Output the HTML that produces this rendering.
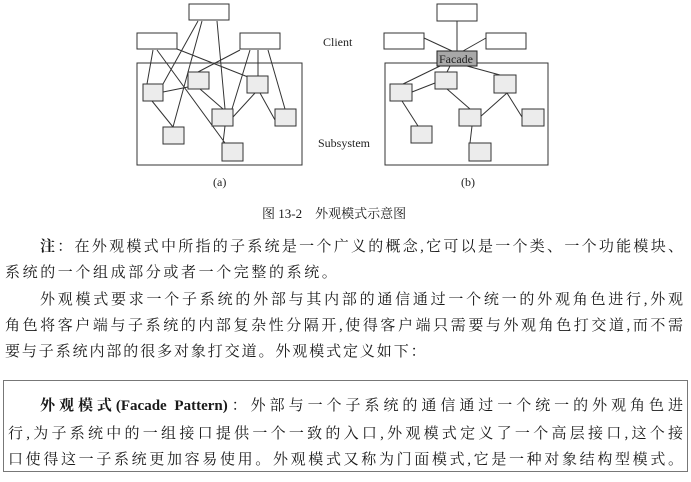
<!DOCTYPE html>
<html><head><meta charset="utf-8"><style>
html,body{margin:0;padding:0;background:#fff;}
body{width:691px;height:482px;position:relative;overflow:hidden;font-family:"Liberation Serif","Noto Serif CJK SC","Noto Sans CJK SC",serif;color:#1a1a1a;}
svg{position:absolute;left:0;top:0;}
.l{position:absolute;left:5px;width:678px;font-size:15px;line-height:20px;white-space:nowrap;text-align:justify;text-align-last:justify;}
.cap{position:absolute;left:262px;top:203px;font-size:13px;width:140px;text-align:justify;text-align-last:justify;white-space:nowrap;}
.box{position:absolute;left:3px;top:380px;width:683px;height:90px;border:1.5px solid #777;}
</style></head><body>
<svg width="691" height="200" viewBox="0 0 691 200">
<g stroke="#333" stroke-width="1" fill="none">
<rect x="137" y="63" width="165" height="102"/>
<rect x="385" y="63" width="163" height="102"/>
<g fill="#fff">
<rect x="189" y="4" width="40" height="16"/><rect x="137" y="33" width="40" height="16"/><rect x="240" y="33" width="40" height="16"/>
<rect x="437" y="4" width="40" height="17"/><rect x="384" y="33" width="40" height="16"/><rect x="486" y="33" width="40" height="16"/>
</g>
<path d="M198 21L163 84M202 21L173 127M217 21L225 109M153 50L147 84M157 50L225 143M177 49L248 77M240 50L198 72M250 50L232 109M258 50L258 76M268 50L285 109M163 92L188 87M152 101L173 127M200 89L223 109M255 93L233 117M260 93L275 120M225 126L223 143"/>
<path d="M457 21L457 51M424 38L452 51M486 38L463 51M440 66L403 84M450 66L447 72M467 66L500 75M412 92L435 83M402 101L418 126M447 89L470 109M507 93L480 117M507 93L522 117M472 126L470 143"/>
<g fill="#ececec">
<rect x="143" y="84" width="20" height="17"/><rect x="188" y="72" width="21" height="17"/><rect x="247" y="76" width="21" height="17"/><rect x="212" y="109" width="21" height="17"/><rect x="275" y="109" width="21" height="17"/><rect x="163" y="127" width="21" height="17"/><rect x="222" y="143" width="21" height="18"/>
<rect x="390" y="84" width="22" height="17"/><rect x="435" y="72" width="22" height="17"/><rect x="494" y="75" width="22" height="18"/><rect x="459" y="109" width="22" height="17"/><rect x="522" y="109" width="22" height="17"/><rect x="411" y="126" width="21" height="17"/><rect x="469" y="143" width="22" height="18"/>
</g>
<rect x="437" y="51" width="40" height="15" fill="#a8a8a8" stroke="#222"/>
</g>
<g font-family="Liberation Serif, serif" font-size="12" fill="#222">
<text x="439" y="63" font-size="12">Facade</text>
<text x="323" y="46">Client</text>
<text x="318" y="147">Subsystem</text>
<text x="213" y="186">(a)</text>
<text x="461" y="186">(b)</text>
</g>
</svg>
<div class="cap">图 13-2　外观模式示意图</div>
<div class="l" style="top:237px;left:40px;width:643px;"><b>注</b>：在外观模式中所指的子系统是一个广义的概念,它可以是一个类、一个功能模块、</div>
<div class="l" style="top:263px;text-align-last:left;letter-spacing:2.6px;">系统的一个组成部分或者一个完整的系统。</div>
<div class="l" style="top:290px;left:40px;width:643px;">外观模式要求一个子系统的外部与其内部的通信通过一个统一的外观角色进行,外观</div>
<div class="l" style="top:316px;">角色将客户端与子系统的内部复杂性分隔开,使得客户端只需要与外观角色打交道,而不需</div>
<div class="l" style="top:342px;text-align-last:left;letter-spacing:1.9px;">要与子系统内部的很多对象打交道。外观模式定义如下：</div>
<div class="box"></div>
<div class="l" style="top:396px;left:40px;width:643px;"><b>外观模式(Facade Pattern)</b>：外部与一个子系统的通信通过一个统一的外观角色进</div>
<div class="l" style="top:424px;left:8px;width:675px;">行,为子系统中的一组接口提供一个一致的入口,外观模式定义了一个高层接口,这个接</div>
<div class="l" style="top:450px;left:8px;width:675px;">口使得这一子系统更加容易使用。外观模式又称为门面模式,它是一种对象结构型模式。</div>
</body></html>
